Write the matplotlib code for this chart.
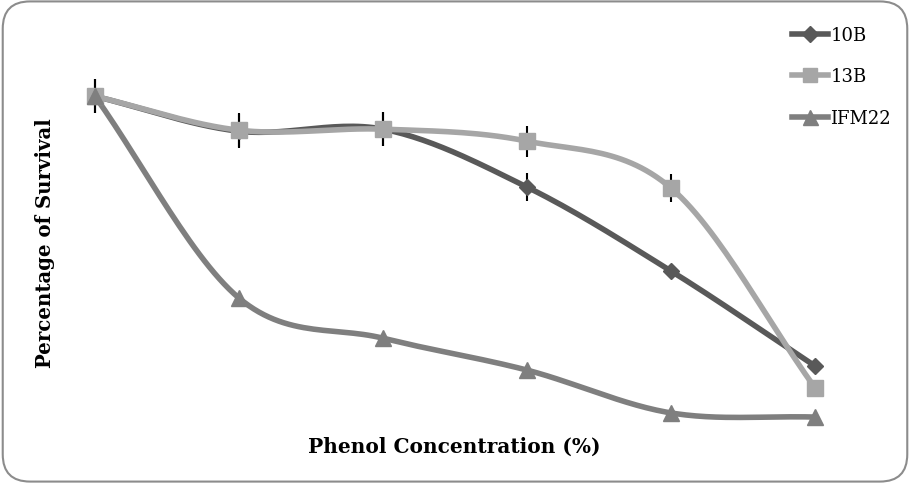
import numpy as np
import matplotlib.pyplot as plt
from matplotlib.patches import FancyBboxPatch

# phenol concentration steps (no tick labels shown in original)
conc = [1, 2, 3, 4, 5, 6]
surv_10B = [100, 89.8, 90.4, 73.5, 49.0, 21.3]
surv_13B = [100, 90.1, 90.4, 86.9, 73.2, 14.9]
surv_IFM22 = [100, 41.1, 29.4, 20.1, 7.6, 6.4]
err_10B = [5, 5, 5, 4, 0, 0]
err_13B = [5, 5, 5, 4.5, 4, 0]


def smooth(x, y, n=30):
    # catmull-rom style smoothing like excel "smoothed line"
    x = np.asarray(x, float)
    y = np.asarray(y, float)
    px = np.concatenate([[2 * x[0] - x[1]], x, [2 * x[-1] - x[-2]]])
    py = np.concatenate([[2 * y[0] - y[1]], y, [2 * y[-1] - y[-2]]])
    xs, ys = [], []
    for i in range(1, len(px) - 2):
        t = np.linspace(0, 1, n)
        for arr, out in ((px, xs), (py, ys)):
            p0, p1, p2, p3 = arr[i - 1], arr[i], arr[i + 1], arr[i + 2]
            out.extend(0.5 * ((2 * p1) + (-p0 + p2) * t
                              + (2 * p0 - 5 * p1 + 4 * p2 - p3) * t ** 2
                              + (-p0 + 3 * p1 - 3 * p2 + p3) * t ** 3))
    return xs, ys


fig = plt.figure(figsize=(9.1, 4.85), dpi=100)
fig.patches.append(FancyBboxPatch((0.003, 0.005), 0.994, 0.99,
                                  boxstyle="round,pad=0,rounding_size=0.03",
                                  transform=fig.transFigure, fill=False,
                                  edgecolor="#8c8c8c", linewidth=1.5,
                                  mutation_aspect=910 / 485))

ax = fig.add_axes([0.0253, 0.0928, 0.9495, 0.742])
ax.set_xlim(0.5, 6.5)
ax.set_ylim(0, 105)
ax.axis("off")

series = [("10B", surv_10B, err_10B, "#595959", "D", 8.5),
          ("13B", surv_13B, err_13B, "#a6a6a6", "s", 11),
          ("IFM22", surv_IFM22, None, "#7f7f7f", "^", 12)]

for name, vals, err, col, mk, ms in series:
    if err is not None:
        ax.errorbar(conc, vals, yerr=err, fmt="none", ecolor="black",
                    elinewidth=1.5, capsize=0, zorder=1)
    sx, sy = smooth(conc, vals)
    ax.plot(sx, sy, color=col, linewidth=4, solid_capstyle="round", zorder=2)
    ax.plot(conc, vals, linestyle="none", marker=mk, markersize=ms,
            color=col, zorder=3)
    ax.plot([], [], color=col, linewidth=4, marker=mk, markersize=ms * 0.9,
            label=name)

ax.legend(loc="upper left", bbox_to_anchor=(0.852, 0.978),
          bbox_transform=fig.transFigure, frameon=False, handlelength=2.0,
          handletextpad=0.15, labelspacing=1.3,
          prop={"family": "DejaVu Serif", "size": 13})

fig.text(0.4995, 0.078, "Phenol Concentration (%)", ha="center", va="center",
         family="DejaVu Serif", fontweight="bold", fontsize=14.5)
fig.text(0.049, 0.499, "Percentage of Survival", ha="center", va="center",
         rotation=90, family="DejaVu Serif", fontweight="bold", fontsize=14.2)

fig.savefig("out.png", dpi=100)
